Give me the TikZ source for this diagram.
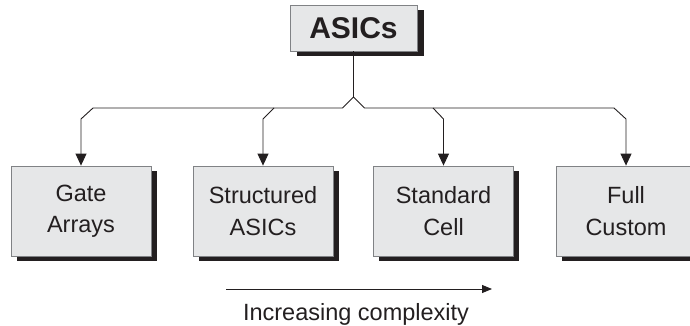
\documentclass[tikz,border=0pt]{standalone}
\usepackage{fontspec}
\setmainfont{Liberation Sans}
\usetikzlibrary{arrows.meta,shadows}
\definecolor{boxfill}{HTML}{E6E7E8}
\definecolor{boxline}{HTML}{808285}
\definecolor{ink}{HTML}{231F20}
\begin{document}
\begin{tikzpicture}[x=1pt,y=-1pt,
  box/.style={draw=boxline, line width=0.8pt, fill=boxfill, minimum width=140pt,
    minimum height=90pt, inner sep=0pt, align=center, text=ink,
    font=\fontsize{23.5}{31.5}\selectfont},
  sh/.style 2 args={general shadow={fill=ink, shadow xshift=#1, shadow yshift=#2}},
  conn/.style={draw=ink, line width=0.9pt},
  arr/.style={conn, -{Triangle[length=12pt,width=11pt]}}]
\useasboundingbox (0,0) rectangle (690,326);
\clip (0,0) rectangle (690,326);
% top node
\node[box, sh={7pt}{-5pt}, minimum width=127pt, minimum height=46pt,
  font=\fontsize{30}{34}\selectfont\bfseries] (asics) at (353.5,28) {ASICs};
% leaf nodes
\node[box, sh={5.5pt}{-5pt}] (ga) at (81,211) {Gate\\Arrays};
\node[box, sh={5.5pt}{-5pt}] (sa) at (263,211) {Structured\\ASICs};
\node[box, sh={5.5pt}{-5pt}] (sc) at (443.5,211) {Standard\\Cell};
\node[box, sh={5.5pt}{-5pt}] (fc) at (626,211) {Full\\Custom};
% connector points
\coordinate (peak) at (353.5,97);
\coordinate (bl) at (342.5,108);
\coordinate (br) at (364.5,108);
\coordinate (t1) at (93,108);  \coordinate (k1) at (81,119);
\coordinate (t2) at (274,108); \coordinate (k2) at (263,119);
\coordinate (t3) at (433,108); \coordinate (k3) at (443.5,119);
\coordinate (t4) at (614,108); \coordinate (k4) at (626,119);
\draw[conn] (asics.south) -- (peak);
\draw[conn] (t1) -- (bl) -- (peak) -- (br) -- (t4);
\draw[arr] (t1) -- (k1) -- (ga.north);
\draw[arr] (t2) -- (k2) -- (sa.north);
\draw[arr] (t3) -- (k3) -- (sc.north);
\draw[arr] (t4) -- (k4) -- (fc.north);
% complexity arrow
\coordinate (a0) at (226,289);
\coordinate (a1) at (492,289);
\draw[conn, -{Triangle[length=10pt,width=8pt]}] (a0) -- (a1);
\node[text=ink, font=\fontsize{23.5}{28}\selectfont, anchor=base, inner sep=0pt] (lbl) at (356,320) {Increasing complexity};
\end{tikzpicture}
\end{document}
